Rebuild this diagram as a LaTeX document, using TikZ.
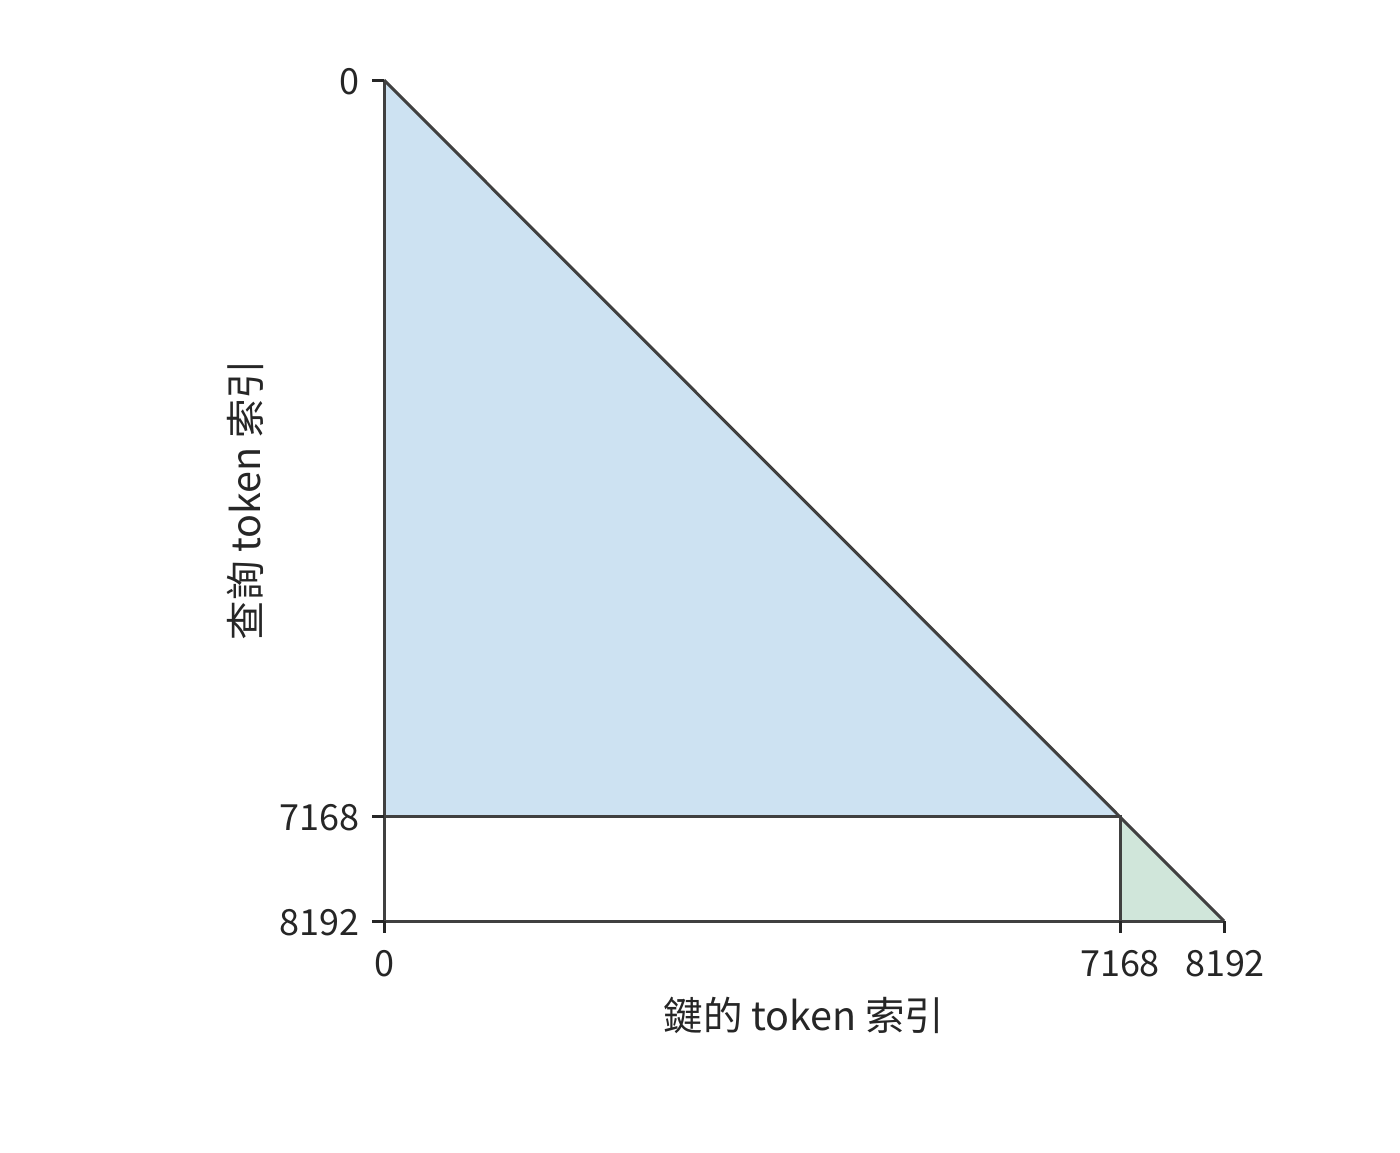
\documentclass[tikz,border=0pt]{standalone}
\usepackage{fontspec}
\setmainfont{Noto Sans CJK TC}
\begin{document}
\begin{tikzpicture}[x=1pt,y=-1pt,
  ln/.style={draw=black!75,line width=3pt},
  tk/.style={draw=black!85,line width=3pt},
  lbl/.style={font=\fontsize{36}{40}\selectfont,text=black!85,inner sep=0pt},
  axl/.style={font=\fontsize{39.5}{44}\selectfont,text=black!85,inner sep=0pt}]
\useasboundingbox (0,0) rectangle (1400,1152);
\coordinate (O) at (384,80);
\coordinate (A) at (1120,816);
\coordinate (B) at (1224,921);
\coordinate (L1) at (384,816);
\coordinate (L2) at (384,921);
\coordinate (B1) at (1120,921);
\fill[fill={rgb,255:red,205;green,226;blue,242}] (O) -- (A) -- (L1) -- cycle;
\fill[fill={rgb,255:red,208;green,230;blue,218}] (A) -- (B) -- (B1) -- cycle;
\draw[ln] (O) -- (L2) -- (B);
\draw[ln] (O) -- (B);
\draw[ln] (L1) -- (A) -- (B1);
% ticks
\draw[tk] (O) -- ++(-12,0);
\draw[tk] (L1) -- ++(-12,0);
\draw[tk] (L2) -- ++(-12,0);
\draw[tk] (L2) -- ++(0,12);
\draw[tk] (B1) -- ++(0,12);
\draw[tk] (B) -- ++(0,12);
\node[lbl,anchor=east] (y0) at (360,82) {0};
\node[lbl,anchor=east] (y1) at (360,818) {7168};
\node[lbl,anchor=east] (y2) at (360,923) {8192};
\node[lbl] (x0) at (384,964) {0};
\node[lbl] (x1) at (1120,964) {7168};
\node[lbl] (x2) at (1225,964) {8192};
\node[axl] (xl) at (804,1015) {鍵的 token 索引};
\node[axl,rotate=90] (yl) at (245,500) {查詢 token 索引};
\end{tikzpicture}
\end{document}
